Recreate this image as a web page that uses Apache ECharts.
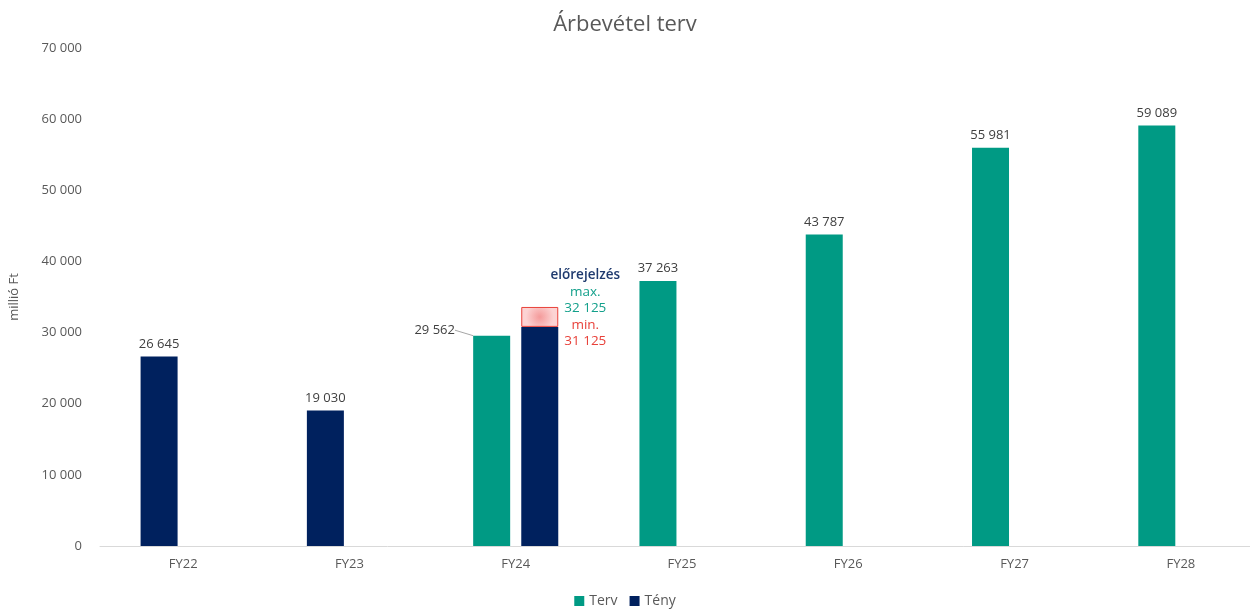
<!DOCTYPE html>
<html>
<head>
<meta charset="utf-8">
<title>Árbevétel terv</title>
<script src="https://cdn.jsdelivr.net/npm/echarts@6/dist/echarts.min.js"></script>
<style>
  html, body { margin: 0; padding: 0; background: #fff; }
  #chart { width: 1250px; height: 610px; }
</style>
</head>
<body>
<div id="chart"></div>
<script>
// adatok (millió Ft)
const categories = ['FY22', 'FY23', 'FY24', 'FY25', 'FY26', 'FY27', 'FY28'];
const terv = [null, null, 29562, 37263, 43787, 55981, 59089];
const teny = [26645, 19030, 30800, null, null, null, null];
// előrejelzési sáv a tény oszlop tetején (kiemelt doboz magassága)
const forecastBand = [null, null, 2800, null, null, null, null];
const forecastMax = 32125;
const forecastMin = 31125;
const yTicks = [0, 10000, 20000, 30000, 40000, 50000, 60000, 70000];

const TERV = '#009a84';
const TENY = '#00215e';
const TEXT = '#595959';

function fmt(v) {
  return String(v).replace(/\B(?=(\d{3})+(?!\d))/g, ' ');
}

// bal oldali hely: terv, ha van, különben tény (FY22, FY23)
const leftSlot = categories.map((c, i) => {
  if (terv[i] != null) {
    const item = { value: terv[i] };
    if (teny[i] != null) item.labelLine = { show: true };
    return item;
  }
  return { value: teny[i], itemStyle: { color: TENY } };
});
// jobb oldali hely: tény, ha mellette terv is van
const rightSlot = categories.map((c, i) => (terv[i] != null ? teny[i] : null));

const chart = echarts.init(document.getElementById('chart'));

chart.setOption({
  backgroundColor: '#fff',
  animation: false,
  textStyle: { fontFamily: '"Open Sans", sans-serif' },
  title: {
    text: 'Árbevétel terv',
    left: 'center',
    top: 9,
    textStyle: { fontSize: 22, fontWeight: 'normal', color: TEXT }
  },
  legend: {
    data: ['Terv', 'Tény'],
    bottom: -3,
    left: 'center',
    icon: 'rect',
    itemWidth: 10,
    itemHeight: 10,
    itemGap: 12,
    textStyle: { fontSize: 14, color: TEXT }
  },
  grid: { left: 100, width: 1164, top: 48, bottom: 64, containLabel: false, outerBoundsMode: 'none' },
  xAxis: {
    type: 'category',
    data: categories,
    axisLine: { lineStyle: { color: '#d9d9d9' } },
    axisTick: { show: false },
    axisLabel: { color: TEXT, fontSize: 13, margin: 12 }
  },
  yAxis: {
    type: 'value',
    min: yTicks[0],
    max: yTicks[yTicks.length - 1],
    interval: yTicks[1] - yTicks[0],
    name: 'millió Ft',
    nameLocation: 'middle',
    nameGap: 79,
    nameTextStyle: { color: TEXT, fontSize: 13 },
    splitLine: { show: false },
    axisLine: { show: false },
    axisTick: { show: false },
    axisLabel: { color: TEXT, fontSize: 13, margin: 18, formatter: fmt }
  },
  series: [
    {
      name: 'Terv',
      type: 'bar',
      barWidth: 37,
      barGap: '30%',
      itemStyle: { color: TERV },
      data: leftSlot,
      label: {
        show: true,
        position: 'top',
        distance: 6,
        color: '#404040',
        fontSize: 13,
        formatter: p => fmt(p.value)
      },
      labelLine: { lineStyle: { color: '#a6a6a6', width: 1 } },
      labelLayout: function (params) {
        if (params.dataIndex === 2) return { dx: -57, dy: 7 };
      }
    },
    {
      name: 'Tény',
      type: 'bar',
      stack: 'teny',
      barWidth: 37,
      barGap: '30%',
      itemStyle: { color: TENY },
      data: rightSlot
    },
    {
      name: 'előrejelzés',
      type: 'bar',
      stack: 'teny',
      barWidth: 37,
      itemStyle: {
        color: {
          type: 'radial', x: 0.5, y: 0.5, r: 0.7,
          colorStops: [
            { offset: 0, color: '#f49a9a' },
            { offset: 1, color: '#fcd3d3' }
          ]
        },
        borderColor: '#e8413a',
        borderWidth: 1
      },
      data: forecastBand,
      label: {
        show: true,
        position: [64, -40],
        align: 'center',
        verticalAlign: 'top',
        lineHeight: 16.5,
        formatter: [
          '{a|előrejelzés}',
          '{b|max.}',
          '{b|' + fmt(forecastMax) + '}',
          '{c|min.}',
          '{c|' + fmt(forecastMin) + '}'
        ].join('\n'),
        rich: {
          a: { color: '#1f3a6e', fontSize: 13.5, fontWeight: 600, lineHeight: 16.5 },
          b: { color: '#13a08b', fontSize: 13.5, lineHeight: 16.5 },
          c: { color: '#e8413a', fontSize: 13.5, lineHeight: 16.5 }
        }
      }
    }
  ]
});
</script>
</body>
</html>
